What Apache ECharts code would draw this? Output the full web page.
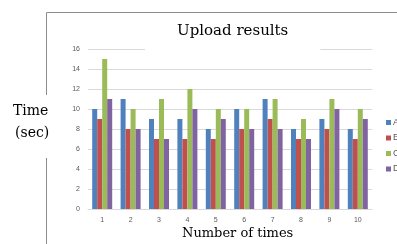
<!DOCTYPE html>
<html>
<head>
<meta charset="utf-8">
<script src="https://cdn.jsdelivr.net/npm/echarts@6/dist/echarts.min.js"></script>
<style>
  html, body { margin: 0; padding: 0; background: #fff; }
  #chart { width: 397px; height: 244px; }
</style>
</head>
<body>
<div id="chart"></div>
<script>
const categories = ["1", "2", "3", "4", "5", "6", "7", "8", "9", "10"];
const seriesA = [10, 11, 9, 9, 8, 10, 11, 8, 9, 8];
const seriesB = [9, 8, 7, 7, 7, 8, 9, 7, 8, 7];
const seriesC = [15, 10, 11, 12, 10, 10, 11, 9, 11, 10];
const seriesD = [11, 8, 7, 10, 9, 8, 8, 7, 10, 9];
const seriesNames = ["A", "B", "C", "D"];
const colors = ["#4F81BD", "#C0504D", "#9BBB59", "#8064A2"];

const chart = echarts.init(document.getElementById("chart"));

const serif = "DejaVu Serif";
const bars = [seriesA, seriesB, seriesC, seriesD].map((d, i) => ({
  name: seriesNames[i],
  type: "bar",
  data: d,
  barWidth: 5,
  barGap: "0%",
  itemStyle: { color: colors[i] },
}));

chart.setOption({
  animation: false,
  color: colors,
  title: {
    text: "Upload results",
    left: 145,
    top: 19,
    backgroundColor: "#fff",
    padding: [5, 32, 14, 32],
    textStyle: { fontFamily: serif, fontSize: 15, fontWeight: "normal", color: "#000" },
  },
  legend: {
    orient: "vertical",
    left: 386,
    top: 118,
    padding: 0,
    itemWidth: 5,
    itemHeight: 5,
    itemGap: 6.5,
    icon: "rect",
    textStyle: { fontSize: 9, color: "#595959", overflow: "none", padding: [0, 0, 0, -3] },
    data: seriesNames,
  },
  grid: { left: 88, right: 25, top: 49, bottom: 35 },
  xAxis: {
    type: "category",
    data: categories,
    axisTick: { show: false },
    axisLine: { lineStyle: { color: "#d9d9d9" } },
    axisLabel: { fontSize: 7, color: "#595959", margin: 8 },
  },
  yAxis: {
    type: "value",
    min: 0,
    max: 16,
    interval: 2,
    axisLine: { show: false },
    axisTick: { show: false },
    axisLabel: { fontSize: 7, color: "#595959", margin: 8 },
    splitLine: { lineStyle: { color: "#d9d9d9" } },
  },
  graphic: [
    { type: "line", shape: { x1: 46.5, y1: 12.5, x2: 397, y2: 12.5 }, style: { stroke: "#8c8c8c", lineWidth: 1 } },
    { type: "line", shape: { x1: 46.5, y1: 12.5, x2: 46.5, y2: 95 }, style: { stroke: "#8c8c8c", lineWidth: 1 } },
    { type: "line", shape: { x1: 46.5, y1: 158, x2: 46.5, y2: 244 }, style: { stroke: "#8c8c8c", lineWidth: 1 } },
    { type: "text", left: 13, top: 104, style: { text: "Time", font: "14px " + serif, fill: "#000" } },
    { type: "text", left: 15, top: 126, style: { text: "(sec)", font: "14px " + serif, fill: "#000" } },
    { type: "text", left: 182, top: 227, style: { text: "Number of times", font: "13px " + serif, fill: "#000" } },
  ],
  series: bars,
});
</script>
</body>
</html>
